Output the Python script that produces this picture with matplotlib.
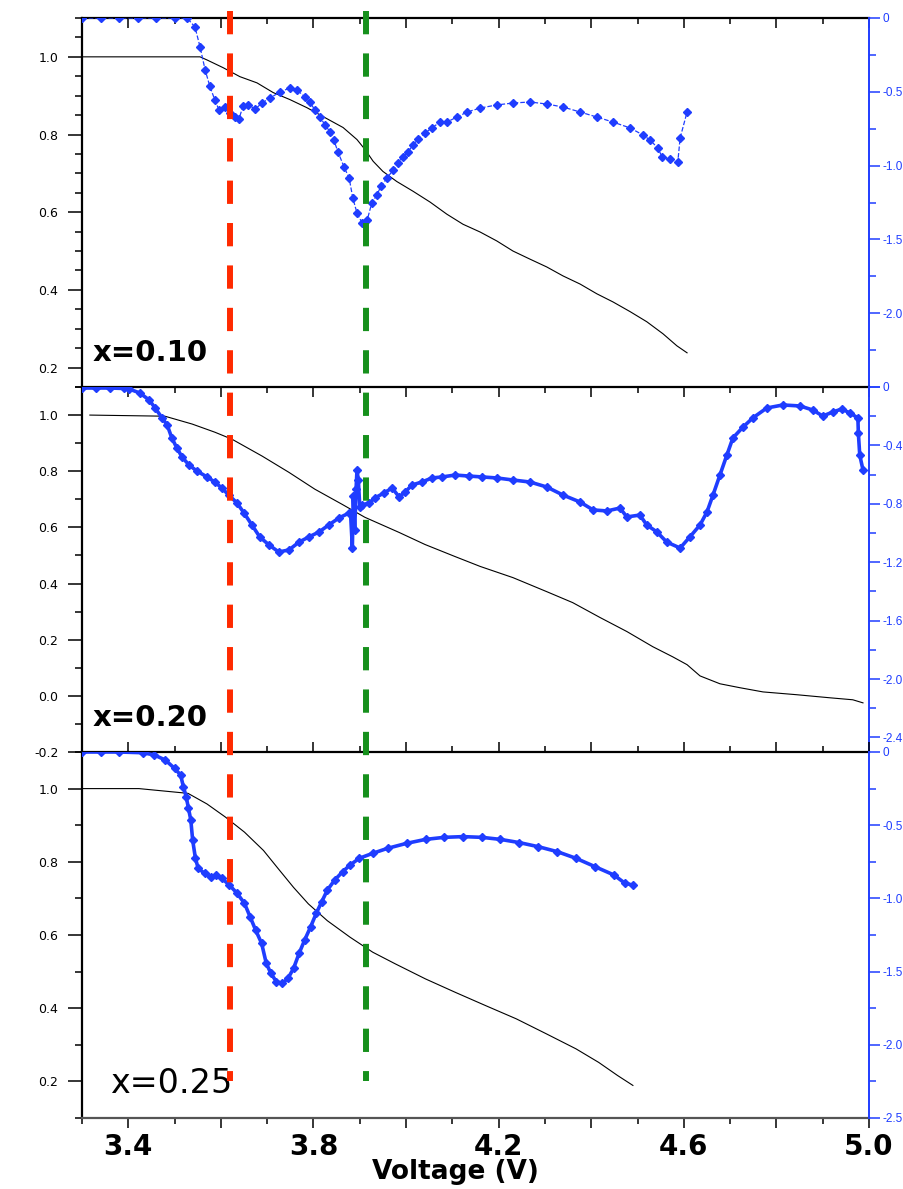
import matplotlib
matplotlib.use('Agg')
import matplotlib.pyplot as plt
from matplotlib.lines import Line2D
from matplotlib.ticker import MultipleLocator, FuncFormatter
from matplotlib.transforms import blended_transform_factory

plt.rcParams['font.family'] = 'DejaVu Sans'
plt.rcParams['axes.unicode_minus'] = False

# ---- x=0.10 ----
volt_10 = [3.300, 3.555, 3.570, 3.605, 3.641, 3.678, 3.713, 3.749, 3.786, 3.821, 3.864, 3.894,
           3.911, 3.929, 3.950, 3.980, 4.015, 4.052, 4.088, 4.123, 4.160, 4.196, 4.231, 4.268,
           4.304, 4.339, 4.376, 4.412, 4.447, 4.484, 4.520, 4.555, 4.585, 4.607]
norm_10 = [1.000, 1.000, 0.992, 0.972, 0.949, 0.933, 0.908, 0.890, 0.869, 0.846, 0.818, 0.787,
           0.762, 0.731, 0.705, 0.679, 0.654, 0.626, 0.595, 0.569, 0.549, 0.526, 0.500, 0.479,
           0.459, 0.436, 0.415, 0.390, 0.369, 0.344, 0.318, 0.287, 0.256, 0.238]
dq_volt_10 = [3.300, 3.340, 3.380, 3.420, 3.460, 3.500, 3.527, 3.544, 3.555, 3.566, 3.576, 3.587,
              3.596, 3.609, 3.620, 3.630, 3.639, 3.648, 3.659, 3.674, 3.689, 3.706, 3.728, 3.749,
              3.764, 3.782, 3.792, 3.803, 3.814, 3.825, 3.836, 3.844, 3.853, 3.866, 3.877, 3.885,
              3.894, 3.905, 3.916, 3.926, 3.937, 3.946, 3.959, 3.972, 3.983, 3.993, 4.004, 4.015,
              4.026, 4.041, 4.056, 4.073, 4.088, 4.110, 4.132, 4.160, 4.196, 4.231, 4.268, 4.304,
              4.339, 4.376, 4.412, 4.447, 4.484, 4.512, 4.527, 4.544, 4.553, 4.570, 4.587, 4.592,
              4.607]
dq_10 = [0.000, 0.000, 0.000, 0.000, 0.000, 0.000, 0.000, -0.061, -0.196, -0.352, -0.461, -0.556,
         -0.623, -0.603, -0.644, -0.671, -0.684, -0.596, -0.589, -0.617, -0.576, -0.542, -0.501,
         -0.474, -0.488, -0.535, -0.569, -0.623, -0.671, -0.725, -0.772, -0.827, -0.908, -1.009,
         -1.084, -1.220, -1.321, -1.389, -1.369, -1.253, -1.199, -1.138, -1.084, -1.030, -0.982,
         -0.942, -0.908, -0.860, -0.820, -0.779, -0.745, -0.705, -0.705, -0.671, -0.637, -0.610,
         -0.589, -0.576, -0.569, -0.583, -0.603, -0.637, -0.671, -0.705, -0.745, -0.793, -0.827,
         -0.881, -0.942, -0.955, -0.976, -0.813, -0.637]

# ---- x=0.20 ----
volt_20 = [3.317, 3.479, 3.538, 3.587, 3.624, 3.689, 3.747, 3.803, 3.862, 3.911, 3.985, 4.041,
           4.106, 4.160, 4.231, 4.304, 4.360, 4.419, 4.477, 4.533, 4.576, 4.607, 4.635, 4.678,
           4.721, 4.771, 4.844, 4.916, 4.965, 4.987]
norm_20 = [1.000, 0.996, 0.968, 0.939, 0.914, 0.854, 0.796, 0.736, 0.682, 0.636, 0.582, 0.539,
           0.496, 0.461, 0.421, 0.371, 0.332, 0.279, 0.229, 0.175, 0.139, 0.111, 0.071, 0.043,
           0.029, 0.014, 0.004, -0.007, -0.014, -0.025]
dq_volt_20 = [3.300, 3.330, 3.360, 3.390, 3.402, 3.425, 3.445, 3.458, 3.473, 3.484, 3.494, 3.505,
              3.516, 3.531, 3.548, 3.570, 3.587, 3.602, 3.617, 3.635, 3.650, 3.667, 3.684, 3.704,
              3.725, 3.747, 3.769, 3.790, 3.812, 3.833, 3.855, 3.877, 3.880, 3.884, 3.886, 3.889,
              3.892, 3.894, 3.897, 3.900, 3.905, 3.920, 3.933, 3.952, 3.970, 3.985, 3.998, 4.013,
              4.034, 4.056, 4.078, 4.106, 4.136, 4.164, 4.196, 4.231, 4.268, 4.304, 4.339, 4.376,
              4.404, 4.434, 4.462, 4.477, 4.505, 4.520, 4.542, 4.563, 4.592, 4.613, 4.635, 4.650,
              4.663, 4.678, 4.693, 4.706, 4.728, 4.749, 4.779, 4.814, 4.851, 4.879, 4.900, 4.922,
              4.941, 4.959, 4.976, 4.977, 4.980, 4.987]
dq_20 = [-0.007, -0.007, -0.007, -0.010, -0.014, -0.041, -0.089, -0.144, -0.212, -0.260, -0.349,
         -0.418, -0.479, -0.534, -0.575, -0.616, -0.651, -0.692, -0.740, -0.795, -0.863, -0.945,
         -1.027, -1.082, -1.130, -1.116, -1.062, -1.027, -0.993, -0.945, -0.897, -0.863, -0.860,
         -1.100, -0.750, -0.980, -0.700, -0.568, -0.640, -0.820, -0.808, -0.795, -0.760, -0.726,
         -0.692, -0.753, -0.719, -0.671, -0.651, -0.623, -0.616, -0.603, -0.610, -0.616, -0.623,
         -0.637, -0.651, -0.685, -0.740, -0.788, -0.842, -0.849, -0.829, -0.890, -0.877, -0.945,
         -0.993, -1.062, -1.103, -1.027, -0.945, -0.856, -0.740, -0.603, -0.466, -0.349, -0.274,
         -0.212, -0.144, -0.123, -0.130, -0.158, -0.199, -0.171, -0.151, -0.178, -0.212, -0.315,
         -0.466, -0.568]

# ---- x=0.25 ----
volt_25 = [3.300, 3.423, 3.529, 3.570, 3.610, 3.651, 3.692, 3.724, 3.757, 3.789, 3.830, 3.879,
           3.928, 3.977, 4.042, 4.107, 4.172, 4.238, 4.303, 4.367, 4.416, 4.457, 4.490]
norm_25 = [1.000, 1.000, 0.987, 0.958, 0.922, 0.881, 0.831, 0.781, 0.730, 0.685, 0.639, 0.594,
           0.553, 0.521, 0.480, 0.443, 0.407, 0.371, 0.330, 0.289, 0.252, 0.216, 0.189]
dq_volt_25 = [3.300, 3.340, 3.380, 3.431, 3.456, 3.480, 3.500, 3.513, 3.519, 3.525, 3.530, 3.535,
              3.539, 3.545, 3.551, 3.565, 3.578, 3.590, 3.602, 3.618, 3.635, 3.651, 3.663, 3.675,
              3.688, 3.698, 3.708, 3.720, 3.733, 3.745, 3.757, 3.769, 3.781, 3.794, 3.806, 3.818,
              3.830, 3.846, 3.863, 3.879, 3.899, 3.928, 3.960, 4.001, 4.042, 4.082, 4.123, 4.164,
              4.204, 4.245, 4.286, 4.327, 4.367, 4.408, 4.449, 4.473, 4.490]
dq_25 = [0.000, 0.000, 0.000, -0.005, -0.020, -0.055, -0.112, -0.157, -0.237, -0.305, -0.385,
         -0.464, -0.601, -0.726, -0.795, -0.829, -0.852, -0.840, -0.863, -0.908, -0.965, -1.034,
         -1.125, -1.216, -1.307, -1.443, -1.512, -1.569, -1.580, -1.546, -1.478, -1.375, -1.284,
         -1.193, -1.102, -1.022, -0.943, -0.874, -0.818, -0.772, -0.726, -0.692, -0.658, -0.624,
         -0.597, -0.583, -0.578, -0.583, -0.597, -0.619, -0.647, -0.681, -0.726, -0.783, -0.840,
         -0.897, -0.909]

panel_labels = ['x=0.10', 'x=0.20', 'x=0.25']
left_limits = [(0.15, 1.1), (-0.2, 1.1), (0.1, 1.1)]
left_major = [0.2, 0.2, 0.2]
left_minor = [0.05, 0.1, 0.1]
right_limits = [(-2.5, 0), (-2.5, 0), (-2.5, 0)]
right_major = [0.5, 0.4, 0.5]
xtick_values = [3.4, 3.8, 4.2, 4.6, 5.0]
xtick_labels = ['3.4', '3.8', '4.2', '4.6', '5.0']
marker_lines_x = [3.62, 3.913]
marker_lines_color = ['#ff2a00', '#16901c']

black_series = [(volt_10, norm_10), (volt_20, norm_20), (volt_25, norm_25)]
blue_series = [(dq_volt_10, dq_10), (dq_volt_20, dq_20), (dq_volt_25, dq_25)]

blue = '#1f3dff'
fig = plt.figure(figsize=(9.04, 11.89), dpi=100)

boxes = [(18, 387), (387, 752), (752, 1118)]
W, H = 904, 1189
xlabel_map = dict(zip([round(t, 1) for t in xtick_values], xtick_labels))
axes = []
for i, (top, bot) in enumerate(boxes):
    ax = fig.add_axes([82 / W, (H - bot) / H, 787 / W, (bot - top) / H])
    axes.append(ax)
    x, y = black_series[i]
    ax.plot(x, y, color='black', lw=0.8)
    ax.set_xlim(3.3, 5.0)
    ax.set_ylim(*left_limits[i])
    ax.yaxis.set_major_locator(MultipleLocator(left_major[i]))
    ax.yaxis.set_minor_locator(MultipleLocator(left_minor[i]))
    ax.yaxis.set_major_formatter(FuncFormatter(lambda v, p: f'{v:.1f}'))
    ax.tick_params(axis='y', which='major', direction='out', length=10, width=1.1,
                   labelsize=9, pad=7, colors='black')
    ax.tick_params(axis='y', which='minor', direction='out', length=5, width=1.1)
    ax.xaxis.set_major_locator(MultipleLocator(0.2))
    ax.xaxis.set_minor_locator(MultipleLocator(0.1))
    for side in ['left', 'top']:
        ax.spines[side].set_linewidth(1.6)
        ax.spines[side].set_color('black')
    ax.spines['right'].set_visible(False)
    if i < 2:
        ax.spines['bottom'].set_visible(False)
        ax.tick_params(axis='x', which='both', bottom=False, labelbottom=False,
                       top=True, direction='in')
    else:
        ax.spines['bottom'].set_linewidth(1.6)
        ax.spines['bottom'].set_color('#555555')
        ax.tick_params(axis='x', which='both', top=True, direction='in')
        ax.tick_params(axis='x', which='both', bottom=True, direction='out')
        ax.xaxis.set_major_formatter(FuncFormatter(lambda v, p: xlabel_map.get(round(v, 1), '')))
        ax.tick_params(axis='x', which='major', labelsize=20, pad=4)
        for lbl in ax.get_xticklabels():
            lbl.set_fontweight('bold')
        ax.set_xlabel('Voltage (V)', fontsize=19, fontweight='bold')
        ax.xaxis.set_label_coords(0.475, -0.112)
    ax.tick_params(axis='x', which='major', length=7, width=1.1)
    ax.tick_params(axis='x', which='minor', length=4, width=1.1)

    if i < 2:
        ax.text(0.013, 0.07, panel_labels[i], transform=ax.transAxes, fontsize=21,
                fontweight='bold', ha='left', va='baseline')
    else:
        ax.text(0.036, 0.068, panel_labels[i], transform=ax.transAxes, fontsize=24,
                ha='left', va='baseline')

    tw = ax.twinx()
    bx, by = blue_series[i]
    if i == 0:
        tw.plot(bx, by, color=blue, lw=0.9, ls='--', marker='D', ms=3.6, mec=blue, mfc=blue)
    else:
        tw.plot(bx, by, color=blue, lw=2.6, marker='D', ms=4.2, mec=blue, mfc=blue)
    lo = right_limits[i][0]
    tw.set_ylim(*right_limits[i])
    tw.yaxis.set_major_locator(MultipleLocator(right_major[i]))
    tw.yaxis.set_minor_locator(MultipleLocator(right_major[i] / 2))
    if i < 2:
        fmt = lambda v, p, lo=lo: '' if abs(v - lo) < 1e-9 else ('0' if abs(v) < 1e-9 else f'{v:.1f}')
    else:
        fmt = lambda v, p: '0' if abs(v) < 1e-9 else f'{v:.1f}'
    tw.yaxis.set_major_formatter(FuncFormatter(fmt))
    tw.tick_params(axis='y', which='major', direction='out', length=8, width=1.1,
                   labelsize=8.5, pad=1.5, colors=blue)
    tw.tick_params(axis='y', which='minor', direction='out', length=5, width=1.1, colors=blue)
    for lbl in tw.get_yticklabels():
        lbl.set_fontfamily('Liberation Sans')
    for side in ['left', 'top', 'bottom']:
        tw.spines[side].set_visible(False)
    tw.spines['right'].set_color(blue)
    tw.spines['right'].set_linewidth(1.4)

trans = blended_transform_factory(axes[2].transData, fig.transFigure)
for xv, col in zip(marker_lines_x, marker_lines_color):
    fig.add_artist(Line2D([xv, xv], [0.991, 0.091], transform=trans, color=col,
                          lw=4.3, dashes=(3.9, 3.2)))

fig.savefig('out.png', dpi=100)
